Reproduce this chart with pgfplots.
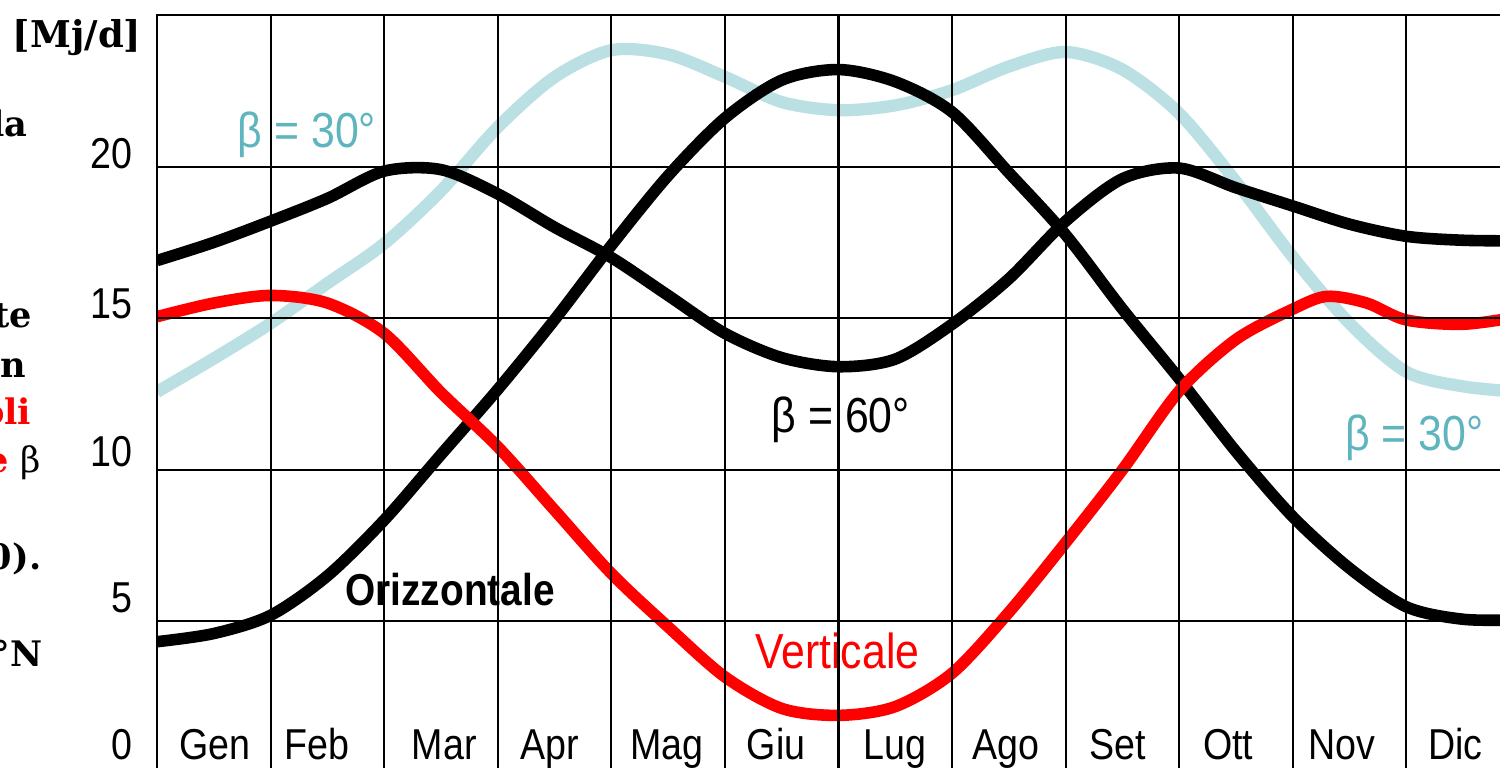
\documentclass[border=0pt]{standalone}
\usepackage{fontspec}
\setmainfont{Liberation Sans}[FakeStretch=0.87]
\newfontfamily\slab{DejaVu Serif}
\usepackage{pgfplots}
\pgfplotsset{compat=1.18}
\definecolor{ltblue}{HTML}{BAE0E3}
\definecolor{teal30}{HTML}{5FB5BE}

\begin{document}
\begin{tikzpicture}
\begin{axis}[
  at={(0,0)}, anchor=south west,
  width=13.63cm, height=7.58cm, scale only axis,
  xmin=0, xmax=12, ymin=0, ymax=25,
  xtick={0,...,12}, ytick={0,5,...,25},
  xticklabels={}, yticklabels={},
  grid=major, major grid style={black, line width=0.6pt},
  axis line style={black, line width=0.7pt},
  major tick length=0pt,
  axis on top,
  extra x ticks={0.51,1.41,2.53,3.46,4.49,5.45,6.5,7.47,8.46,9.43,10.43,11.43},
  extra x tick labels={Gen,Feb,Mar,Apr,Mag,Giu,Lug,Ago,Set,Ott,Nov,Dic},
  extra x tick style={grid=none, xticklabel style={anchor=base, yshift=0.13cm, inner sep=0pt}},
  extra y ticks={0.43,5.28,10.1,15.0,19.95},
  extra y tick labels={0,5,10,15,20},
  extra y tick style={grid=none, yticklabel style={anchor=base east, xshift=-0.24cm, inner sep=0pt}},
  tick label style={font=\fontsize{12.3}{14}\selectfont},
  every axis plot/.append style={smooth, line width=3.3pt, line join=round},
]
% beta = 30
\addplot[ltblue, line width=3.5pt] coordinates {
  (0,12.57) (0.5,13.67) (1,14.83) (1.5,16.15) (2,17.46) (2.5,19.2) (3,21.3)
  (3.5,22.95) (4,23.84) (4.5,23.7) (5,22.96) (5.5,22.13) (6,21.86) (6.5,22.02)
  (7,22.52) (7.5,23.3) (8,23.78) (8.5,23.2) (9,21.75) (9.5,19.5) (10,17.02)
  (10.5,14.83) (11,13.23) (11.5,12.75) (12,12.57)
};
% beta = 60
\addplot[black] coordinates {
  (0,16.9) (0.5,17.5) (1,18.2) (1.5,18.95) (2,19.85) (2.5,19.9) (3,19.1)
  (3.5,18.0) (4,17.0) (4.5,15.75) (5,14.5) (5.5,13.7) (6,13.4) (6.5,13.65)
  (7,14.8) (7.5,16.3) (8,18.2) (8.5,19.6) (9,19.95) (9.5,19.3) (10,18.7)
  (10.5,18.1) (11,17.7) (11.5,17.57) (12,17.55)
};
% Orizzontale
\addplot[black] coordinates {
  (0,4.33) (0.5,4.6) (1,5.2) (1.5,6.5) (2,8.34) (2.5,10.5) (3,12.65)
  (3.5,14.95) (4,17.4) (4.5,19.7) (5,21.6) (5.5,22.85) (6,23.2) (6.5,22.8)
  (7,21.8) (7.5,19.8) (8,17.75) (8.5,15.3) (9,13.0) (9.5,10.6) (10,8.45)
  (10.5,6.75) (11,5.48) (11.5,5.07) (12,5.05)
};
% Verticale
\addplot[red] coordinates {
  (0,15.05) (0.5,15.5) (1,15.75) (1.5,15.5) (2,14.5) (2.5,12.55) (3,10.76)
  (3.5,8.67) (4,6.58) (4.5,4.82) (5,3.17) (5.5,2.13) (6,1.9) (6.5,2.19)
  (7,3.29) (7.5,5.3) (8,7.6) (8.5,10.0) (9,12.6) (9.5,14.3) (10,15.3)
  (10.3,15.72) (10.65,15.5) (11,14.94) (11.5,14.8) (12,15.05)
};
\node[font=\fontsize{14}{16}\selectfont, text=teal30, anchor=base] at (axis cs:1.32,20.64) {β = 30°};
\node[font=\fontsize{14}{16}\selectfont, text=teal30, anchor=base] at (axis cs:11.07,10.65) {β = 30°};
\node[font=\fontsize{14}{16}\selectfont, anchor=base] at (axis cs:6.02,11.24) {β = 60°};
\node[font=\bfseries\fontsize{12.7}{15}\selectfont, anchor=base] at (axis cs:2.58,5.54) {Orizzontale};
\node[font=\fontsize{14}{16}\selectfont, text=red, anchor=base] at (axis cs:5.99,3.46) {Verticale};
\end{axis}
% text of the page beside the chart, cut at the left edge
\begin{scope}[every node/.style={anchor=base east, inner sep=0pt, font=\slab\bfseries\fontsize{10}{12}\selectfont}]
\node[font=\slab\bfseries\fontsize{10.5}{13}\selectfont] at (-0.15,7.25) {[Mj/d]};
\node at (-1.29,6.36) {la};
\node at (-1.24,4.45) {te};
\node at (-1.30,3.95) {n};
\node[text=red] at (-1.25,3.48) {oli};
\node at (-1.15,3.00) {\textcolor{red}{e} \mdseries β};
\node at (-1.15,2.03) {0).};
\node at (-1.14,1.06) {°N};
\end{scope}
\pgfresetboundingbox
\path[use as bounding box] (-1.57,0.05) rectangle (13.43,7.73);
\end{tikzpicture}
\end{document}
